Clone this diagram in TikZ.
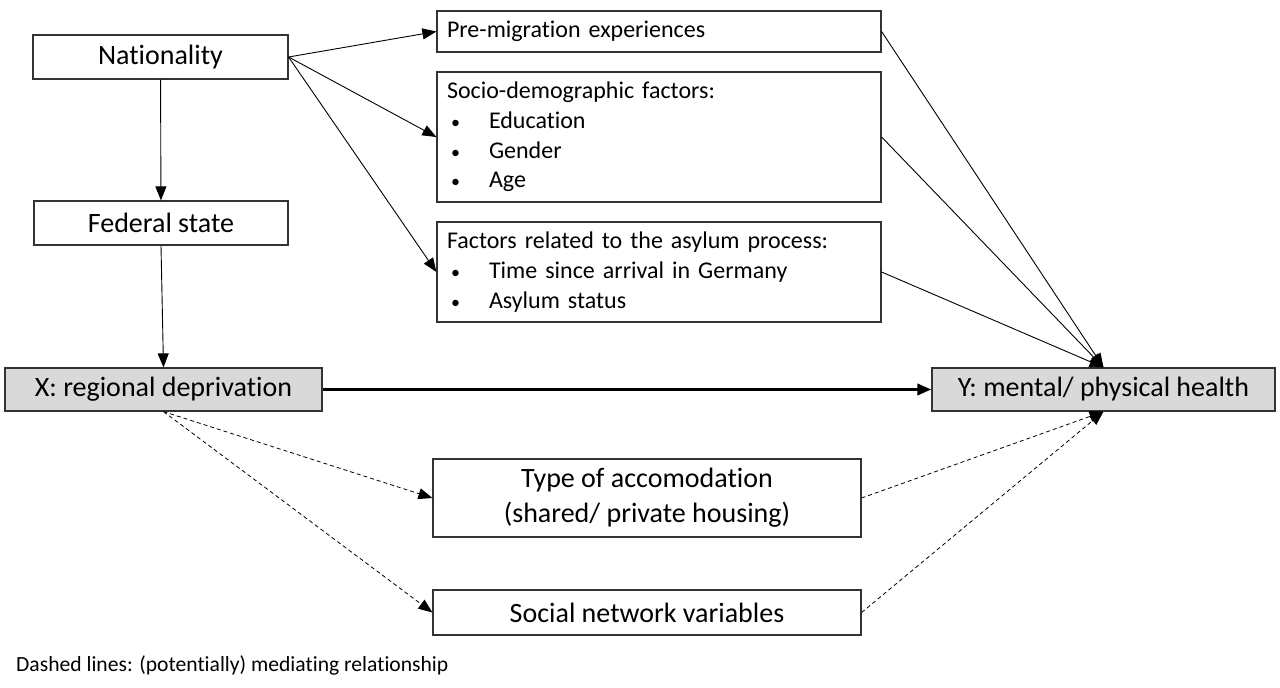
\documentclass[tikz,border=0pt]{standalone}
\usepackage{fontspec}
\setmainfont{Carlito}[Ligatures=NoCommon]
\usetikzlibrary{arrows.meta}

\newcommand{\bul}[1]{\hspace*{4pt}\makebox[38pt][l]{\fontsize{18}{18}\selectfont\textbullet}#1}

\begin{document}
\begin{tikzpicture}[x=1pt,y=-1pt,
            box/.style={draw=black!80, line width=1.2pt, inner sep=0pt, minimum height=44pt, font=\fontsize{28}{32}\selectfont},
            listbox/.style={draw=black!80, line width=1.2pt, inner xsep=10pt, inner ysep=0pt, align=left, text width=424pt, font=\fontsize{24}{29.6}\selectfont},
            grey/.style={box, fill=black!15},
            link/.style={line width=0.9pt, -{Triangle[length=14pt,width=11pt]}},
            mediating/.style={link, line width=0.8pt, dash pattern=on 4pt off 3pt}]
            \useasboundingbox (0,0) rectangle (1280,688);
            \node [box, minimum width=255pt] (nat) at (160.5,57) {Nationality};
            \node [box, minimum width=254pt] (fed) at (161,223) {Federal state};
            \node [listbox, minimum height=41pt] (pre) at (659,31.5) {Pre-migration experiences};
            \node [listbox, minimum height=130pt] (soc) at (659,137) {Socio-demographic factors:\\ \bul{Education}\\ \bul{Gender}\\ \bul{Age}};
            \node [listbox, minimum height=100pt] (asy) at (659,272) {Factors related to the asylum process:\\ \bul{Time since arrival in Germany}\\ \bul{Asylum status}};
            \node [grey, minimum width=317pt, minimum height=43pt] (X) at (163.5,389.5) {X: regional deprivation};
            \node [grey, minimum width=343pt, minimum height=43pt] (Y) at (1103.5,389.5) {Y: mental/ physical health};
            \node [box, minimum width=428pt, minimum height=78pt, align=center, font=\fontsize{28}{35}\selectfont] (acc) at (647,498) {Type of accomodation\\(shared/ private housing)};
            \node [box, minimum width=428pt, minimum height=45pt] (net) at (647,612.5) {Social network variables};
            \node [anchor=west, inner sep=0pt, font=\fontsize{21.6}{24}\selectfont] (note) at (16,665) {Dashed lines: (potentially) mediating relationship};
            \draw [link] (nat.east) -- (pre.west);
            \draw [link] (nat.east) -- (soc.west);
            \draw [link] (nat.east) -- (asy.west);
            \draw [link] (nat) -- (fed);
            \draw [link] (fed.south) -- (X.north);
            \draw [link, line width=3.5pt] (X) -- (Y);
            \draw [link] (pre.east) -- (Y.north);
            \draw [link] (soc.east) -- (Y.north);
            \draw [link] (asy.east) -- (Y.north);
            \draw [mediating] (X.south) -- (acc.west);
            \draw [mediating] (X.south) -- (net.west);
            \draw [mediating] (acc.east) -- (Y.south);
            \draw [mediating] (net.east) -- (Y.south);
\end{tikzpicture}
\end{document}
